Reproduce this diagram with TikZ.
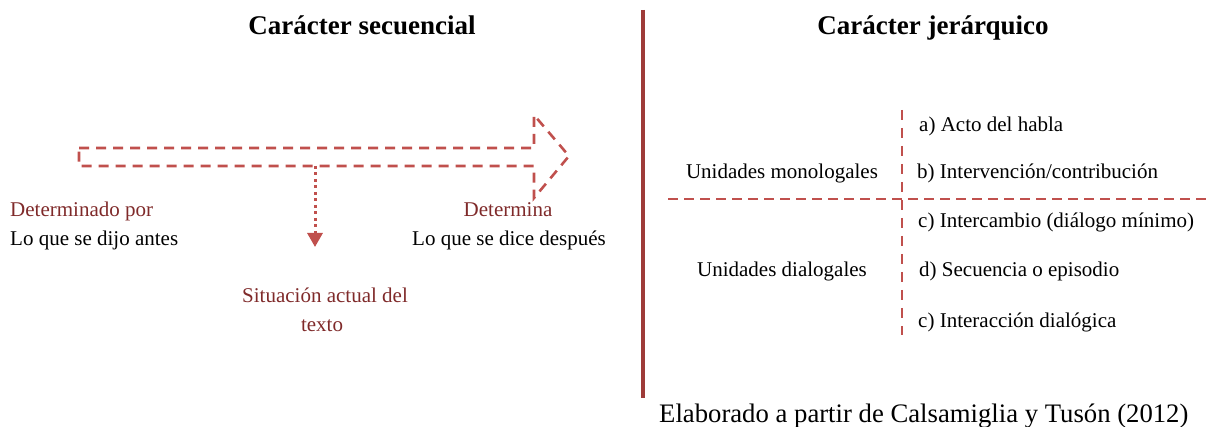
\documentclass[tikz,border=0pt]{standalone}
\usepackage{fontspec}
\setmainfont{Liberation Serif}
\usetikzlibrary{arrows.meta}
\definecolor{dashred}{HTML}{C0504D}
\definecolor{txtred}{HTML}{7F2A2A}
\definecolor{barred}{HTML}{9E3B39}
\tikzset{
  body/.style={inner sep=0pt, font=\fontsize{21}{25}\selectfont},
  redtxt/.style={body, text=txtred},
  title/.style={inner sep=0pt, font=\fontsize{27}{32}\selectfont\bfseries},
  dashline/.style={draw=dashred, line width=2.6pt, dash pattern=on 10pt off 7pt},
}
\begin{document}
\begin{tikzpicture}[x=1pt,y=-1pt]
\useasboundingbox (0,0) rectangle (1209,427);
% titles
\node[title, anchor=base] (t1) at (362,35) {Carácter secuencial};
\node[title, anchor=base] (t2) at (933,35) {Carácter jerárquico};
% separator
\draw[barred, line width=4pt] (643,10) -- (643,398);
% big dashed arrow
\draw[dashline, line join=miter] (79,148) -- (534,148) -- (534,115) -- (569,156) -- (534,198) -- (534,166) -- (79,166) -- cycle;
\coordinate (ds) at (315,166);
\coordinate (de) at (315,247);
\draw[dashred, line width=3pt, dash pattern=on 3pt off 3.5pt, -{Triangle[width=15pt,length=14pt]}] (ds) -- (de);
% left texts
\node[redtxt, anchor=base west] (dp) at (10,217) {Determinado por};
\node[body, anchor=base west] (la) at (10,246) {Lo que se dijo antes};
\node[redtxt, anchor=base] (dt) at (508,217) {Determina};
\node[body, anchor=base] (ld) at (509,246) {Lo que se dice después};
\node[redtxt, anchor=base] (s1) at (325,303) {Situación actual del};
\node[redtxt, anchor=base] (s2) at (322,331) {texto};
% right grid
\coordinate (vt) at (902,110);
\coordinate (vb) at (902,335);
\coordinate (hl) at (668,199);
\coordinate (hr) at (1209,199);
\draw[dashline, line width=2.4pt, dash pattern=on 10pt off 8pt] (vt) -- (vb);
\draw[dashline, line width=2.4pt, dash pattern=on 10pt off 6pt] (hl) -- (hr);
\node[body, anchor=base] (um) at (782,179) {Unidades monologales};
\node[body, anchor=base] (ud) at (782,277) {Unidades dialogales};
\node[body, anchor=base west] (ia) at (919,132) {a) Acto del habla};
\node[body, anchor=base west] (ib) at (917,179) {b) Intervención/contribución};
\node[body, anchor=base west] (ic) at (918,228) {c) Intercambio (diálogo mínimo)};
\node[body, anchor=base west] (id) at (919,277) {d) Secuencia o episodio};
\node[body, anchor=base west] (ie) at (918,327) {c) Interacción dialógica};
% footer
\node[inner sep=0pt, anchor=base west, font=\fontsize{26.7}{30}\selectfont] (ft) at (659,422) {Elaborado a partir de Calsamiglia y Tusón (2012)};
\end{tikzpicture}
\end{document}
